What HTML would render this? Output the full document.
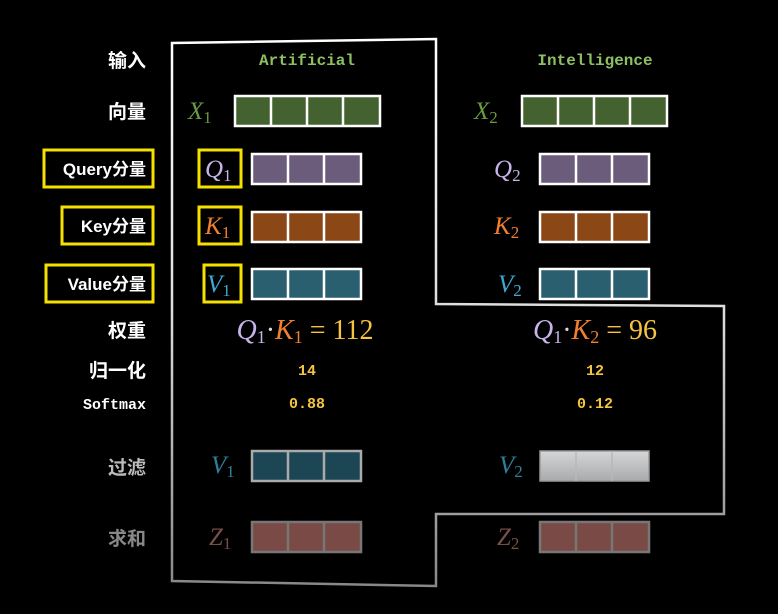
<!DOCTYPE html>
<html><head><meta charset="utf-8"><style>
html,body{margin:0;padding:0;background:#000;}
svg{display:block;}
.lbl{font-family:"Liberation Sans","Noto Sans CJK SC",sans-serif;font-weight:bold;font-size:19px;fill:#fff;text-anchor:end;}
.mono{font-family:"Liberation Mono","DejaVu Sans Mono",monospace;font-weight:bold;text-anchor:middle;}
.math{font-family:"Liberation Serif",serif;font-style:italic;font-size:25px;}
.sub{font-style:normal;font-size:17px;}
.eq{font-family:"Liberation Serif",serif;font-size:28px;text-anchor:middle;}
</style></head><body>
<svg width="778" height="614" viewBox="0 0 778 614">
<defs>
<linearGradient id="outline" x1="0" y1="0" x2="0" y2="1"><stop offset="0" stop-color="#fff"/><stop offset="0.5" stop-color="#ddd"/><stop offset="1" stop-color="#888"/></linearGradient>
<linearGradient id="grayfill" x1="0" y1="0" x2="0" y2="1"><stop offset="0" stop-color="#d4d6d8"/><stop offset="1" stop-color="#a8aaac"/></linearGradient>
</defs>
<polygon points="172,43 436,39 436,304 724,306 724,514 436,514 436,586 172,581" fill="none" stroke="url(#outline)" stroke-width="2.5"/>

<text class="lbl" x="146" y="67">输入</text>
<text class="lbl" x="146" y="118">向量</text>
<rect x="44" y="150" width="109" height="37" fill="none" stroke="#f5e000" stroke-width="3"/>
<text class="lbl" x="146" y="175" style="font-size:17px">Query分量</text>
<rect x="62" y="207" width="91" height="37" fill="none" stroke="#f5e000" stroke-width="3"/>
<text class="lbl" x="146" y="232" style="font-size:17px">Key分量</text>
<rect x="46" y="265" width="107" height="37" fill="none" stroke="#f5e000" stroke-width="3"/>
<text class="lbl" x="146" y="290" style="font-size:17px">Value分量</text>
<text class="lbl" x="146" y="337">权重</text>
<text class="lbl" x="146" y="377">归一化</text>
<text class="lbl" x="146" y="409" style="font-family:'Liberation Mono',monospace;font-size:15px">Softmax</text>
<text class="lbl" x="146" y="474" style="fill:#bbb">过滤</text>
<text class="lbl" x="146" y="545" style="fill:#888">求和</text>

<text class="mono" x="307" y="65" font-size="16" fill="#8cc063">Artificial</text>
<text class="mono" x="595" y="65" font-size="16" fill="#8cc063">Intelligence</text>

<text class="math" x="188" y="119" fill="#6a9a40">X<tspan class="sub" dy="4">1</tspan></text>
<g><rect x="235" y="96" width="145" height="30" fill="#44622f" stroke="#fff" stroke-width="2.5"/><path d="M271 96V126M307 96V126M343 96V126" stroke="#fff" stroke-width="2.5"/></g>
<text class="math" x="474" y="119" fill="#6a9a40">X<tspan class="sub" dy="4">2</tspan></text>
<g><rect x="522" y="96" width="145" height="30" fill="#44622f" stroke="#fff" stroke-width="2.5"/><path d="M558 96V126M594 96V126M630 96V126" stroke="#fff" stroke-width="2.5"/></g>

<rect x="199" y="150" width="42" height="37" fill="none" stroke="#f5e000" stroke-width="3"/>
<text class="math" x="205" y="177" fill="#c8b4e8">Q<tspan class="sub" dy="4">1</tspan></text>
<g><rect x="252" y="154" width="109" height="30" fill="#6c5c7c" stroke="#fff" stroke-width="2.5"/><path d="M288 154V184M324 154V184" stroke="#fff" stroke-width="2.5"/></g>
<text class="math" x="494" y="177" fill="#c8b4e8">Q<tspan class="sub" dy="4">2</tspan></text>
<g><rect x="540" y="154" width="109" height="30" fill="#6c5c7c" stroke="#fff" stroke-width="2.5"/><path d="M576 154V184M612 154V184" stroke="#fff" stroke-width="2.5"/></g>

<rect x="199" y="207" width="42" height="37" fill="none" stroke="#f5e000" stroke-width="3"/>
<text class="math" x="205" y="234" fill="#f08030">K<tspan class="sub" dy="4">1</tspan></text>
<g><rect x="252" y="212" width="109" height="30" fill="#8b4716" stroke="#fff" stroke-width="2.5"/><path d="M288 212V242M324 212V242" stroke="#fff" stroke-width="2.5"/></g>
<text class="math" x="494" y="234" fill="#f08030">K<tspan class="sub" dy="4">2</tspan></text>
<g><rect x="540" y="212" width="109" height="30" fill="#8b4716" stroke="#fff" stroke-width="2.5"/><path d="M576 212V242M612 212V242" stroke="#fff" stroke-width="2.5"/></g>

<rect x="204" y="265" width="37" height="37" fill="none" stroke="#f5e000" stroke-width="3"/>
<text class="math" x="207" y="292" fill="#40a8d0">V<tspan class="sub" dy="4">1</tspan></text>
<g><rect x="252" y="269" width="109" height="30" fill="#2a5f70" stroke="#fff" stroke-width="2.5"/><path d="M288 269V299M324 269V299" stroke="#fff" stroke-width="2.5"/></g>
<text class="math" x="498" y="292" fill="#40a8d0">V<tspan class="sub" dy="4">2</tspan></text>
<g><rect x="540" y="269" width="109" height="30" fill="#2a5f70" stroke="#fff" stroke-width="2.5"/><path d="M576 269V299M612 269V299" stroke="#fff" stroke-width="2.5"/></g>

<text class="eq" x="305" y="339"><tspan fill="#c8b4e8" font-style="italic">Q</tspan><tspan fill="#c8b4e8" font-size="18" dy="4">1</tspan><tspan fill="#ddd" dy="-4">·</tspan><tspan fill="#f08030" font-style="italic">K</tspan><tspan fill="#f08030" font-size="18" dy="4">1</tspan><tspan fill="#f5c542" dy="-4"> = 112</tspan></text>
<text class="eq" x="595" y="339"><tspan fill="#c8b4e8" font-style="italic">Q</tspan><tspan fill="#c8b4e8" font-size="18" dy="4">1</tspan><tspan fill="#ddd" dy="-4">·</tspan><tspan fill="#f08030" font-style="italic">K</tspan><tspan fill="#f08030" font-size="18" dy="4">2</tspan><tspan fill="#f5c542" dy="-4"> = 96</tspan></text>

<text class="mono" x="307" y="375" font-size="15" fill="#f5c542">14</text>
<text class="mono" x="595" y="375" font-size="15" fill="#f5c542">12</text>
<text class="mono" x="307" y="408" font-size="15" fill="#f5c542">0.88</text>
<text class="mono" x="595" y="408" font-size="15" fill="#f5c542">0.12</text>

<text class="math" x="211" y="473" fill="#2f7f9a">V<tspan class="sub" dy="4">1</tspan></text>
<g><rect x="252" y="451" width="109" height="30" fill="#1d4655" stroke="#aaa" stroke-width="2.5"/><path d="M288 451V481M324 451V481" stroke="#aaa" stroke-width="2.5"/></g>
<text class="math" x="499" y="473" fill="#2f7f9a">V<tspan class="sub" dy="4">2</tspan></text>
<g><rect x="540" y="451" width="109" height="30" fill="url(#grayfill)" stroke="#999" stroke-width="1.5"/><path d="M576 451V481M612 451V481" stroke="#b8b8b8" stroke-width="1.5"/></g>

<text class="math" x="209" y="545" fill="#7a4e48">Z<tspan class="sub" dy="4">1</tspan></text>
<g><rect x="252" y="522" width="109" height="30" fill="#7a4a47" stroke="#777" stroke-width="2.5"/><path d="M288 522V552M324 522V552" stroke="#777" stroke-width="2.5"/></g>
<text class="math" x="497" y="545" fill="#7a4e48">Z<tspan class="sub" dy="4">2</tspan></text>
<g><rect x="540" y="522" width="109" height="30" fill="#7a4a47" stroke="#777" stroke-width="2.5"/><path d="M576 522V552M612 522V552" stroke="#777" stroke-width="2.5"/></g>
</svg>
</body></html>
